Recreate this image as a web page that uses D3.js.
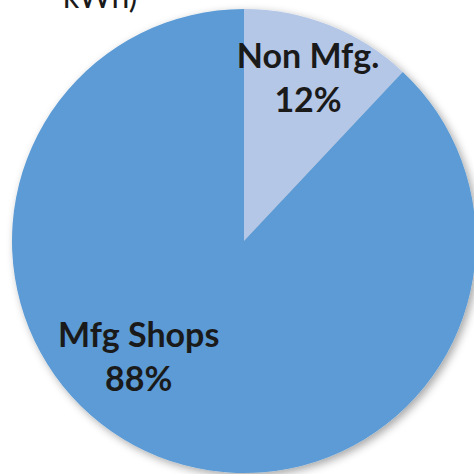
<!DOCTYPE html>
<html>
<head>
<meta charset="utf-8">
<script src="https://cdn.jsdelivr.net/npm/d3@7"></script>
<style>
  html, body { margin: 0; padding: 0; background: #fff; }
  svg { display: block; }
</style>
</head>
<body>
<div id="chart"></div>
<script>
// Data
const categories = ["Non Mfg.", "Mfg Shops"];
const shares = [12, 88];
const colors = ["#B4C7E7", "#5B9BD5"];
const titleTail = "kWh)";

const width = 474;
const height = 474;
const cx = 244;
const cy = 241;
const radius = 232;

const svg = d3.select("#chart")
  .append("svg")
  .attr("width", width)
  .attr("height", height)
  .attr("viewBox", [0, 0, width, height]);

// Soft outer shadow like the office chart
const filter = svg.append("defs")
  .append("filter")
  .attr("id", "pie-shadow")
  .attr("x", "-20%")
  .attr("y", "-20%")
  .attr("width", "140%")
  .attr("height", "140%");

filter.append("feDropShadow")
  .attr("dx", 3)
  .attr("dy", 3)
  .attr("stdDeviation", 4)
  .attr("flood-color", "#000")
  .attr("flood-opacity", 0.35);

// Title remnant (cut off at the top, as in the source)
svg.append("text")
  .attr("x", 63)
  .attr("y", 8)
  .attr("font-family", "Lato, 'Open Sans', sans-serif")
  .attr("font-size", 32)
  .attr("fill", "#1a1a1a")
  .text(titleTail);

const pie = d3.pie()
  .value((d) => d)
  .sort(null);

const arcs = pie(shares);

const arc = d3.arc()
  .innerRadius(0)
  .outerRadius(radius);

const g = svg.append("g")
  .attr("transform", `translate(${cx},${cy})`);

g.append("g")
  .attr("filter", "url(#pie-shadow)")
  .selectAll("path")
  .data(arcs)
  .enter()
  .append("path")
  .attr("d", arc)
  .attr("fill", (d, i) => colors[i]);

// Label placement: Non Mfg on the slice middle, Mfg Shops at a best-fit spot
const labelPos = (d, i) => {
  const span = d.endAngle - d.startAngle;
  const a = d.startAngle + span * (i === 0 ? 0.5 : 0.564);
  const r = radius * (i === 0 ? 0.75 : 0.68);
  return [Math.sin(a) * r, -Math.cos(a) * r];
};

const labels = g.selectAll(".label")
  .data(arcs)
  .enter()
  .append("text")
  .attr("class", "label")
  .attr("text-anchor", "middle")
  .attr("font-family", "Lato, 'Open Sans', sans-serif")
  .attr("font-weight", "bold")
  .attr("font-size", 34)
  .attr("fill", "#1a1a1a")
  .attr("transform", (d, i) => {
    const [x, y] = labelPos(d, i);
    return `translate(${x},${y})`;
  });

labels.append("tspan")
  .attr("x", 0)
  .attr("y", -11)
  .text((d, i) => categories[i]);

labels.append("tspan")
  .attr("x", 0)
  .attr("y", 33)
  .text((d) => `${d.data}%`);
</script>
</body>
</html>
